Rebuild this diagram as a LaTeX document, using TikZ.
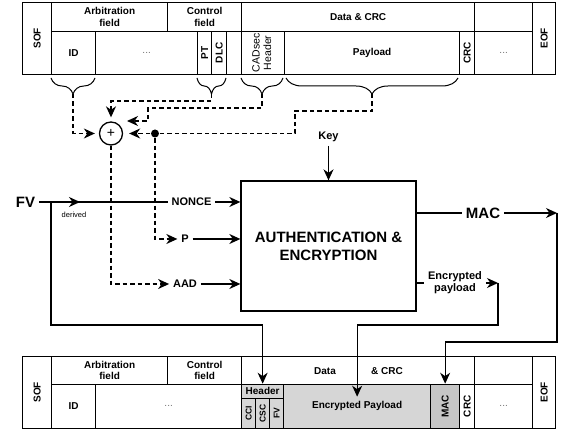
\documentclass[tikz,border=0pt]{standalone}
\usepackage{fontspec}
\usepackage{graphicx}
\setmainfont{Liberation Sans}
\usetikzlibrary{arrows.meta,decorations.pathreplacing}
\definecolor{cellgray}{HTML}{D6D6D6}
\definecolor{macgray}{HTML}{C6C6C6}
\newcommand{\vtext}[1]{\rotatebox{90}{#1}}
\newcommand{\fdots}{{\mdseries\color{black!55}\fontsize{10}{11}\selectfont...}}
\tikzset{
  cell/.style 2 args={draw, line width=1.3pt, anchor=south west, inner sep=0pt, align=center,
    minimum width=#1, minimum height=#2, font=\fontsize{10}{11.5}\selectfont\bfseries},
  dline/.style={dash pattern=on 4.5pt off 3pt},
  lbl/.style={font=\fontsize{11}{12}\selectfont\bfseries},
  big/.style={font=\fontsize{15}{18}\selectfont\bfseries},
  brc/.style={decorate, decoration={brace, mirror, amplitude=16pt}},
}
\begin{document}
\begin{tikzpicture}[x=10pt,y=10pt,line width=1.3pt,>={Stealth[length=11pt,width=10pt,inset=3.5pt]}]
\useasboundingbox (0,0) rectangle (56.1,43);
% frame before
\node[cell={29pt}{72pt}] (sof1) at (2.2,35.5) {\vtext{SOF}};
\node[cell={116pt}{29pt}] (arb1) at (5.1,39.8) {Arbitration\\field};
\node[cell={74pt}{29pt}] (ctl1) at (16.7,39.8) {Control\\field};
\node[cell={233pt}{29pt}] (dat1) at (24.1,39.8) {Data \& CRC};
\node[cell={58pt}{29pt}] (emp1) at (47.4,39.8) {};
\node[cell={23pt}{72pt}] (eof1) at (53.2,35.5) {\vtext{EOF}};
\node[cell={44pt}{43pt}] (id1) at (5.1,35.5) {ID};
\node[cell={102pt}{43pt}] (oth1) at (9.5,35.5) {\fdots};
\node[cell={14pt}{43pt}] (pt1) at (19.7,35.5) {\vtext{PT}};
\node[cell={15pt}{43pt}] (dlc1) at (21.1,35.5) {\vtext{DLC}};
\node[cell={15pt}{43pt}] (res1) at (22.6,35.5) {};
\node[cell={43pt}{43pt}, font=\fontsize{10.5}{11.5}\selectfont] (cad1) at (24.1,35.5)
  {\vtext{\begin{tabular}{@{}c@{}}CADsec\\Header\end{tabular}}};
\node[cell={175pt}{43pt}] (pay1) at (28.4,35.5) {Payload};
\node[cell={15pt}{43pt}] (crc1) at (45.9,35.5) {\vtext{CRC}};
\node[cell={58pt}{43pt}] (end1) at (47.4,35.5) {\fdots};
% braces
\draw[brc,line width=1pt] (5.1,35.2) -- (9.5,35.2);
\draw[brc,line width=1pt] (19.7,35.2) -- (22.6,35.2);
\draw[brc,line width=1pt] (24.1,35.2) -- (28.3,35.2);
\draw[brc,line width=1pt] (28.6,35.2) -- (45.8,35.2);
\coordinate (tid) at (7.3,33.6);
\coordinate (tpt) at (21.15,33.6);
\coordinate (tcad) at (26.2,33.6);
\coordinate (tpay) at (37.2,33.6);
% middle part
\node[draw, circle, minimum size=23pt, inner sep=0pt, font=\fontsize{14}{14}\selectfont] (plus) at (11.1,29.65) {+};
\node[circle, fill, inner sep=0pt, minimum size=8pt] (dot) at (15.5,29.65) {};
\node[draw, minimum width=175pt, minimum height=130pt, big, align=center] (box) at (32.85,18.4) {AUTHENTICATION \&\\ENCRYPTION};
\node[big] (fv) at (2.55,22.8) {FV};
\node[font=\fontsize{7.5}{9}\selectfont] (der) at (7.4,21.5) {derived};
\node[lbl] (nonce) at (19.15,22.8) {NONCE};
\node[lbl] (p) at (18.5,19.1) {P};
\node[lbl] (aad) at (18.5,14.6) {AAD};
\node[lbl] (key) at (32.85,29.3) {Key};
\node[big] (mac) at (48.3,21.7) {MAC};
\node[lbl, align=center] (encp) at (45.5,14.7) {Encrypted\\payload};
\coordinate (fvb) at (5.1,22.8);
\coordinate (macc) at (55.7,21.7);
\coordinate (encc) at (49.8,14.7);
% frame after
\node[cell={29pt}{72pt}] (sof2) at (2.2,0.1) {\vtext{SOF}};
\node[cell={116pt}{28pt}] (arb2) at (5.1,4.5) {Arbitration\\field};
\node[cell={74pt}{28pt}] (ctl2) at (16.7,4.5) {Control\\field};
\node[cell={233pt}{28pt}] (dat2) at (24.1,4.5) {};
\node[cell={58pt}{28pt}] (emp2) at (47.4,4.5) {};
\node[cell={23pt}{72pt}] (eof2) at (53.2,0.1) {\vtext{EOF}};
\node[cell={44pt}{44pt}] (id2) at (5.1,0.1) {ID};
\node[cell={146pt}{44pt}] (oth2) at (9.5,0.1) {\fdots};
\node[cell={42pt}{14pt}, fill=cellgray] (hdr) at (24.1,3.1) {Header};
\node[cell={14pt}{30pt}, fill=cellgray, font=\fontsize{8.5}{9}\selectfont\bfseries] (cci) at (24.1,0.1) {\vtext{CCI}};
\node[cell={14pt}{30pt}, fill=cellgray, font=\fontsize{8.5}{9}\selectfont\bfseries] (csc) at (25.5,0.1) {\vtext{CSC}};
\node[cell={14pt}{30pt}, fill=cellgray, font=\fontsize{8.5}{9}\selectfont\bfseries] (fv2) at (26.9,0.1) {\vtext{FV}};
\node[cell={147pt}{44pt}, fill=cellgray] (epay) at (28.3,0.1) {Encrypted Payload};
\node[cell={29pt}{44pt}, fill=macgray] (mac2) at (43.0,0.1) {\vtext{MAC}};
\node[cell={15pt}{44pt}] (crc2) at (45.9,0.1) {\vtext{CRC}};
\node[cell={58pt}{44pt}] (end2) at (47.4,0.1) {\fdots};
\node[font=\fontsize{10}{11.5}\selectfont\bfseries] (data2) at (32.5,5.9) {Data};
\node[font=\fontsize{10}{11.5}\selectfont\bfseries] (crct2) at (38.7,5.9) {\& CRC};
% dashed inputs
\draw[dline,->,shorten >=4pt] (tid) |- (plus);
\draw[dline,->,shorten >=4pt] (tpt) -- ++(0,-0.7) -| (plus);
\draw[dline,->] (tcad) -- ++(0,-1.4) -| ++(-11.4,-1.3) -- ++(-2.1,0);
\draw[dline] (tpay) -- ++(0,-1.7) -| (29.5,29.65) -- (dot);
\draw[dline,->,shorten >=6pt] (dot) -- (plus);
\draw[dline,->] (dot) |- (p);
\draw[dline,->] (plus) |- (aad);
% solid connectors
\draw (fv) -- (nonce);
\draw[->] (fv) -- (8.0,22.8);
\draw[->] (nonce) -- (nonce -| box.west);
\draw[->] (p) -- (p -| box.west);
\draw[->] (aad) -- (aad -| box.west);
\draw[->] (key) -- (box);
\draw (box.east |- mac) -- (mac);
\draw[->] (mac) -- (macc);
\draw (box.east |- encp) -- (encp);
\draw[->] (encp) -- (encc);
\draw[->] (fvb) -- ++(0,-12.3) -| (hdr);
\draw[->,shorten >=-13pt] (encc) -- ++(0,-4.2) -| (epay);
\draw[->] (macc) -- ++(0,-12.9) -| (mac2);
\end{tikzpicture}
\end{document}
